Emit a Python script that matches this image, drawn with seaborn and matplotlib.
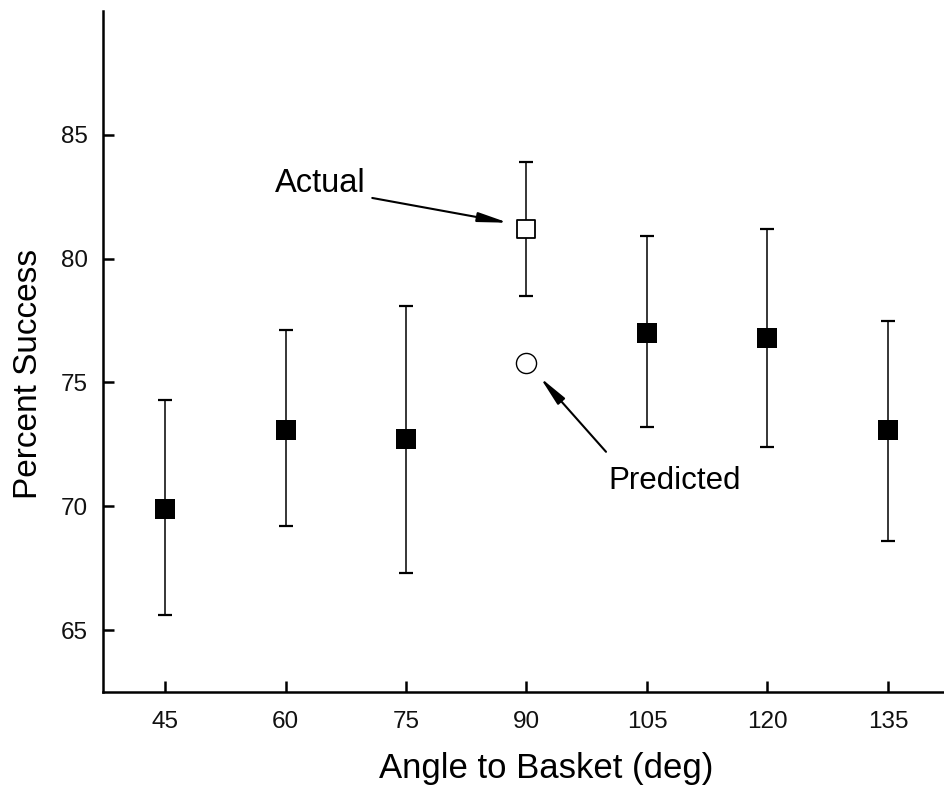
import matplotlib
matplotlib.use("Agg")
import matplotlib.pyplot as plt
import seaborn as sns
import pandas as pd

# Data
angles = [45, 60, 75, 105, 120, 135]
means = [69.9, 73.1, 72.7, 77.0, 76.8, 73.1]
lower = [65.6, 69.2, 67.3, 73.2, 72.4, 68.6]
upper = [74.3, 77.1, 78.1, 80.9, 81.2, 77.5]

actual_angle = [90]
actual_mean = [81.2]
actual_lower = [78.5]
actual_upper = [83.9]

predicted_angle = [90]
predicted_mean = [75.8]

xticks = [45, 60, 75, 90, 105, 120, 135]
yticks = [65, 70, 75, 80, 85]

sns.set_style("ticks")
plt.rcParams['font.family'] = ['Liberation Sans', 'DejaVu Sans']
plt.rcParams['text.color'] = 'black'
plt.rcParams['axes.labelcolor'] = 'black'

fig = plt.figure(figsize=(9.45, 7.87), dpi=100)
ax = fig.add_axes([103/945, 1-692/787, 1-103/945, (692-11)/787])

df = pd.DataFrame({"angle": angles, "mean": means, "lo": lower, "hi": upper})

# error bars
ax.errorbar(df["angle"], df["mean"],
            yerr=[df["mean"] - df["lo"], df["hi"] - df["mean"]],
            fmt='none', ecolor='black', elinewidth=1.1, capsize=5, capthick=1.6, zorder=2)
ax.errorbar(actual_angle, actual_mean,
            yerr=[[actual_mean[0] - actual_lower[0]], [actual_upper[0] - actual_mean[0]]],
            fmt='none', ecolor='black', elinewidth=1.1, capsize=5, capthick=1.6, zorder=2)

sns.scatterplot(data=df, x="angle", y="mean", marker='s', color='black', s=210,
                edgecolor='black', linewidth=0, ax=ax, zorder=3)
sns.scatterplot(x=actual_angle, y=actual_mean, marker='s', s=150, facecolor='white',
                edgecolor='black', linewidth=1.3, ax=ax, zorder=3)
sns.scatterplot(x=predicted_angle, y=predicted_mean, marker='o', s=210, facecolor='white',
                edgecolor='black', linewidth=1.0, ax=ax, zorder=3)

arrow = dict(arrowstyle='-|>,head_length=1.0,head_width=0.16', color='black', lw=1.5,
             shrinkA=0, shrinkB=0, mutation_scale=18)
ax.annotate('', xy=(87.7, 81.45), xytext=(70.8, 82.45), arrowprops=arrow)
ax.annotate('', xy=(91.7, 75.2), xytext=(99.9, 72.2), arrowprops=arrow)
ax.text(58.7, 82.7, 'Actual', fontsize=23.5, ha='left', va='baseline')
ax.text(100.15, 70.69, 'Predicted', fontsize=22.5, ha='left', va='baseline')

ax.set_xlim(37.28, 142.1)
ax.set_ylim(62.5, 90.0)
ax.set_xticks(xticks)
ax.set_yticks(yticks)
ax.set_xticklabels([str(t) for t in xticks])
ax.set_yticklabels([str(t) for t in yticks])
ax.tick_params(direction='in', length=8, width=1.8, labelsize=17.5, color='black', labelcolor='#111111')
ax.tick_params(axis='x', pad=14)
ax.tick_params(axis='y', pad=11)

for s in ['top', 'right']:
    ax.spines[s].set_visible(False)
for s in ['left', 'bottom']:
    ax.spines[s].set_linewidth(1.8)
    ax.spines[s].set_color('black')

ax.set_xlabel('Angle to Basket (deg)', fontsize=25)
ax.set_ylabel('Percent Success', fontsize=24)
ax.xaxis.set_label_coords(0.526, -0.088)
ax.yaxis.set_label_coords(-0.070, 0.467)

fig.savefig('out.png', dpi=100)
